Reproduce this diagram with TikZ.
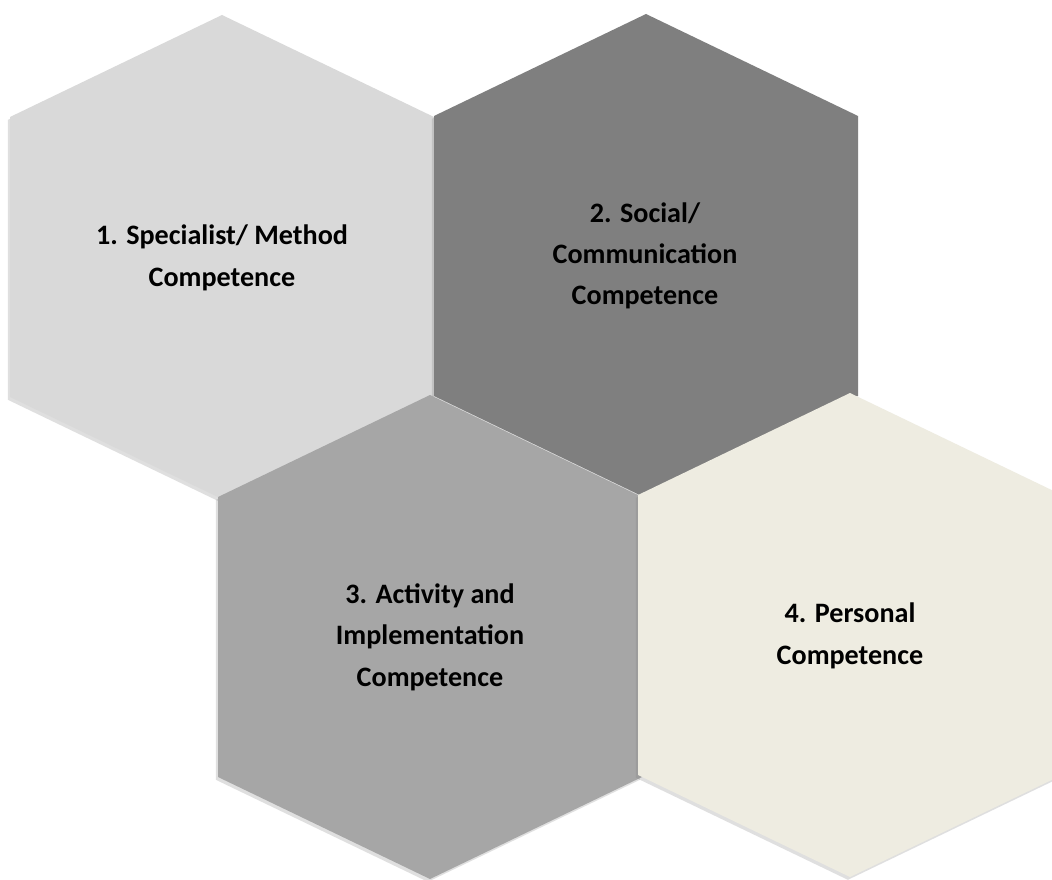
\documentclass[tikz,border=0pt]{standalone}
\usepackage{fontspec}
\setmainfont{Carlito}
\usetikzlibrary{shadows}

\definecolor{hexone}{HTML}{D9D9D9}
\definecolor{hextwo}{HTML}{7F7F7F}
\definecolor{hexthree}{HTML}{A6A6A6}
\definecolor{hexfour}{HTML}{EEECE1}

\tikzset{
  hexagon/.pic={
    \path[pic actions, drop shadow={shadow xshift=-1.5pt, shadow yshift=-2pt, opacity=0.25, fill=gray}]
      (0,-242) -- (212,-140) -- (212,140) -- (0,242) -- (-212,140) -- (-212,-140) -- cycle;
  },
  hexlabel/.style={align=center, text=black, font=\bfseries\fontsize{20}{29.4}\selectfont},
}

\begin{document}
\begin{tikzpicture}[x=0.025cm, y=-0.025cm]
    \clip (0,0) rectangle (1052,880);
    \fill[white] (0,0) rectangle (1052,880);
    % Hexagons
    \pic[fill=hexone] at (222,257) {hexagon};
    \pic[fill=hextwo] at (646,256) {hexagon};
    \pic[fill=hexthree] at (430,637) {hexagon};
    \pic[fill=hexfour] at (850,635) {hexagon};
    % Labels
    \node[hexlabel] (spec) at (222,258) {1. Specialist/ Method\\Competence};
    \node[hexlabel] (social) at (645,256) {2. Social/\\Communication\\Competence};
    \node[hexlabel] (activity) at (430,637) {3. Activity and\\Implementation\\Competence};
    \node[hexlabel] (personal) at (850,636) {4. Personal\\Competence};
\end{tikzpicture}
\end{document}
